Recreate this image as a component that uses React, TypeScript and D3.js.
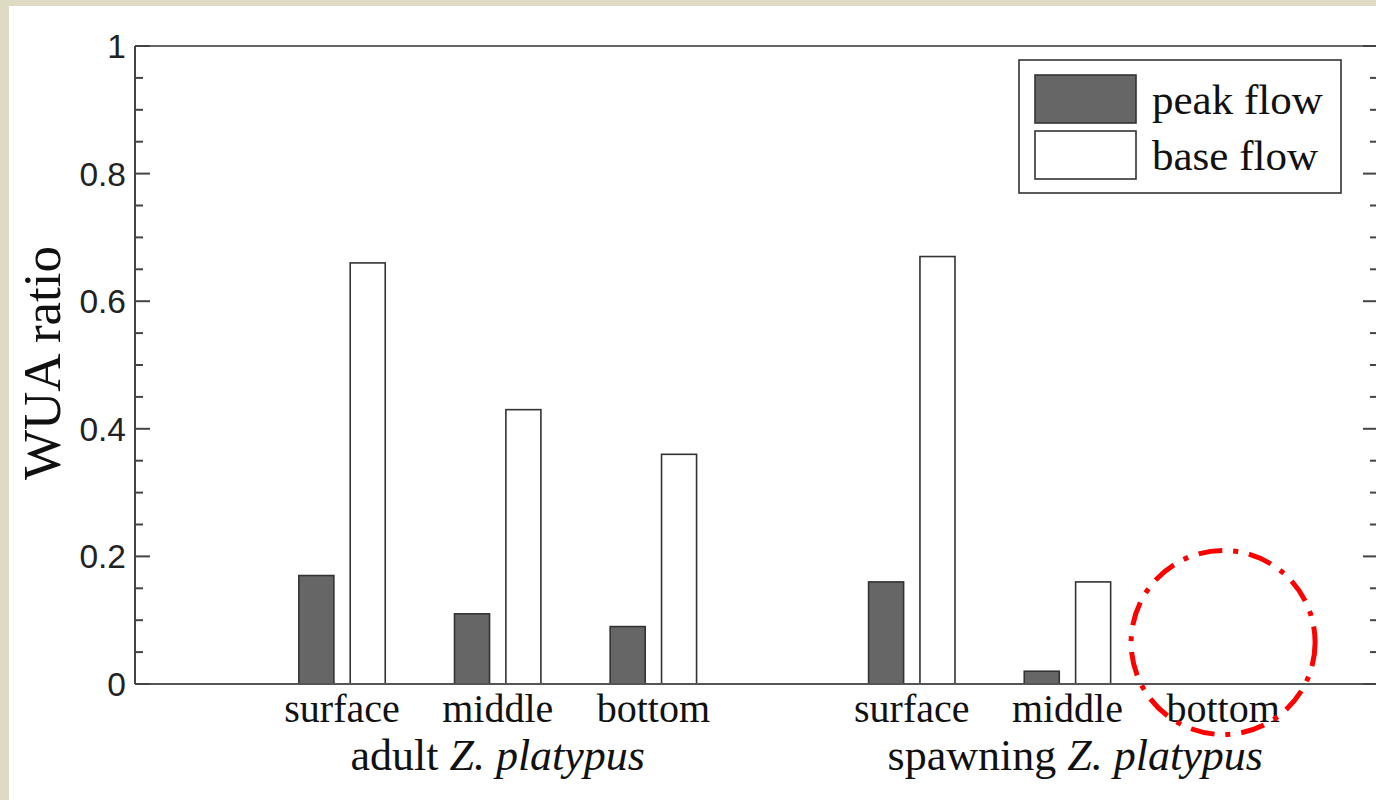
import React from "react";
import * as d3 from "d3";

const categories = ["surface", "middle", "bottom", "surface", "middle", "bottom"];
const categoryPositions = [1, 2, 3, 4.66, 5.66, 6.66];
const peakFlow = [0.17, 0.11, 0.09, 0.16, 0.02, 0.0];
const baseFlow = [0.66, 0.43, 0.36, 0.67, 0.16, 0.0];
const groupLabels = [
  { pre: "adult ", italic: "Z. platypus", center: 2 },
  { pre: "spawning ", italic: "Z. platypus", center: 5.71 },
];
const yTicks = [0, 0.2, 0.4, 0.6, 0.8, 1];
const seriesNames = ["peak flow", "base flow"];

const W = 1376;
const H = 800;
const left = 135;
const right = 1378;
const top = 46;
const bottom = 684;

export default function App() {
  const x = d3.scaleLinear().domain([-0.33, 7.655]).range([left, right]);
  const y = d3.scaleLinear().domain([0, 1]).range([bottom, top]);
  const unit = x(1) - x(0);
  const barW = unit * 0.225;
  const off = unit * 0.165;
  const minor = d3.range(0, 1.0001, 0.05);
  const serif = "'Liberation Serif', 'Times New Roman', serif";
  const sans = "'Liberation Sans', Arial, sans-serif";
  const axisColor = "#444";

  const circleCx = x(categoryPositions[5]);
  const circleCy = y(0.065);

  return (
    <svg
      width={W}
      height={H}
      style={{ position: "absolute", left: 0, top: 0 }}
    >
      <rect x={0} y={0} width={W} height={H} fill="#dfdac4" />
      <rect x={9} y={6} width={W} height={H} fill="#ffffff" />

      {/* bars */}
      {categoryPositions.map((p, i) => (
        <g key={i}>
          <rect
            x={x(p) - off - barW / 2}
            y={y(peakFlow[i])}
            width={barW}
            height={y(0) - y(peakFlow[i])}
            fill="#666666"
            stroke="#333"
            strokeWidth={1.6}
          />
          <rect
            x={x(p) + off - barW / 2}
            y={y(baseFlow[i])}
            width={barW}
            height={y(0) - y(baseFlow[i])}
            fill="#ffffff"
            stroke="#333"
            strokeWidth={1.6}
          />
        </g>
      ))}

      {/* axes frame */}
      <line x1={left} x2={right} y1={top} y2={top} stroke="#666" strokeWidth={2} />
      <line x1={left} x2={right} y1={bottom} y2={bottom} stroke="#555" strokeWidth={2} />
      <line x1={left} x2={left} y1={top} y2={bottom} stroke={axisColor} strokeWidth={2} />
      <line x1={right} x2={right} y1={top} y2={bottom} stroke={axisColor} strokeWidth={2} />

      {/* ticks */}
      {minor.map((v, i) => {
        const major = i % 4 === 0;
        const len = major ? 15 : 8;
        return (
          <g key={i}>
            <line x1={left} x2={left + len} y1={y(v)} y2={y(v)} stroke={axisColor} strokeWidth={2} />
            <line x1={right} x2={right - len} y1={y(v)} y2={y(v)} stroke={axisColor} strokeWidth={2} />
          </g>
        );
      })}
      {yTicks.map((v) => (
        <text
          key={v}
          x={left - 9}
          y={y(v)}
          dy="0.36em"
          textAnchor="end"
          fontFamily={sans}
          fontSize={33.5}
          fill="#222"
        >
          {d3.format("~g")(v)}
        </text>
      ))}

      {/* y title */}
      <text
        transform={`translate(60,${(top + bottom) / 2 - 2}) rotate(-90)`}
        textAnchor="middle"
        fontFamily={serif}
        fontSize={53}
        fill="#111"
      >
        WUA ratio
      </text>

      {/* category labels */}
      {categoryPositions.map((p, i) => (
        <text
          key={i}
          x={x(p)}
          y={722}
          textAnchor="middle"
          fontFamily={serif}
          fontSize={40}
          fill="#111"
        >
          {categories[i]}
        </text>
      ))}
      {groupLabels.map((g, i) => (
        <text
          key={i}
          x={x(g.center)}
          y={770}
          textAnchor="middle"
          fontFamily={serif}
          fontSize={44}
          fill="#111"
        >
          {g.pre}
          <tspan fontStyle="italic">{g.italic}</tspan>
        </text>
      ))}

      {/* legend */}
      <rect x={1019} y={60} width={322} height={133} fill="#fff" stroke="#333" strokeWidth={1.6} />
      {seriesNames.map((s, i) => (
        <g key={s}>
          <rect
            x={1035}
            y={75 + i * 56}
            width={101}
            height={48}
            fill={i === 0 ? "#666666" : "#ffffff"}
            stroke="#333"
            strokeWidth={1.6}
          />
          <text x={1152} y={114 + i * 56} fontFamily={serif} fontSize={43} fill="#111">
            {s}
          </text>
        </g>
      ))}

      {/* annotation circle */}
      <circle
        cx={circleCx}
        cy={circleCy}
        r={92}
        fill="none"
        stroke="#ff0000"
        strokeWidth={5}
        strokeDasharray="24 11 5 11"
      />
    </svg>
  );
}
